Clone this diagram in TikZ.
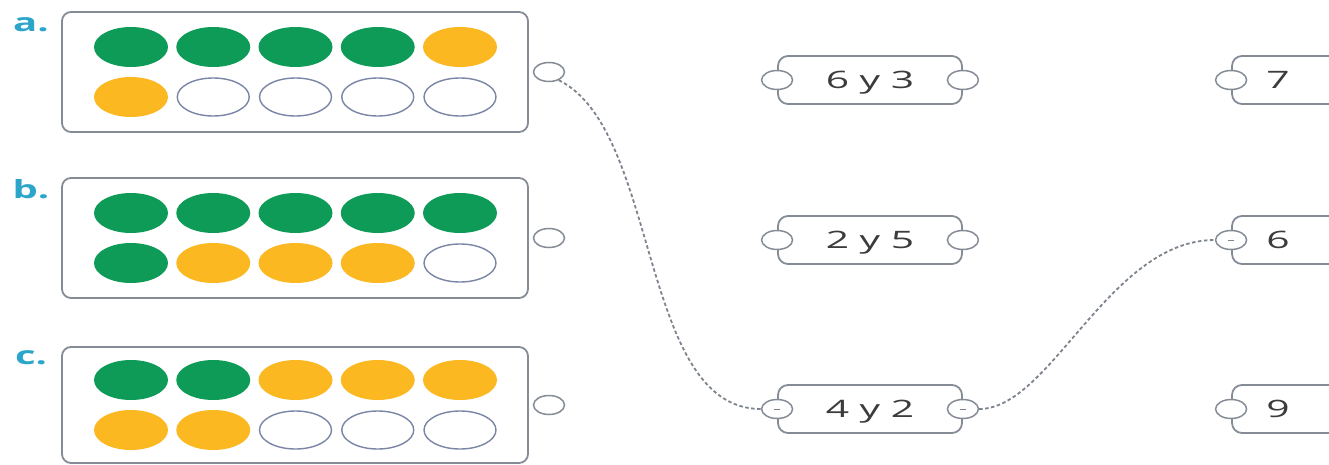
\documentclass[tikz,border=0pt]{standalone}
\usepackage{fontspec}
\setmainfont{Open Sans}
\usetikzlibrary{shapes.geometric,calc}
\definecolor{dotgreen}{HTML}{0E9B57}
\definecolor{dotyellow}{HTML}{FBB820}
\definecolor{rimgray}{HTML}{858C96}
\definecolor{ringblue}{HTML}{7B85A6}
\definecolor{labelteal}{HTML}{2BA6CA}
\definecolor{wiregray}{HTML}{7E848E}
\definecolor{textgray}{HTML}{3C3C3C}
\begin{document}
\begin{tikzpicture}[x=1pt,y=-1pt,
  frame/.style={draw=rimgray,line width=1.8pt,rounded corners=9pt,fill=white,minimum width=466pt,inner sep=0pt},
  gdot/.style={ellipse,fill=dotgreen,minimum width=74pt,minimum height=40pt,inner sep=0pt},
  ydot/.style={ellipse,fill=dotyellow,minimum width=74pt,minimum height=40pt,inner sep=0pt},
  edot/.style={ellipse,draw=ringblue,line width=1.4pt,fill=white,minimum width=72pt,minimum height=38pt,inner sep=0pt},
  port/.style={ellipse,draw=rimgray,line width=1.5pt,fill=white,minimum width=31pt,minimum height=19pt,inner sep=0pt},
  tag/.style={draw=rimgray,line width=1.8pt,rounded corners=10pt,fill=white,minimum height=48pt,inner sep=0pt,text depth=0pt,text=textgray,font=\fontsize{24}{24}\selectfont},
  lab/.style={text=labelteal,font=\fontsize{25}{25}\selectfont\bfseries,anchor=base,inner sep=0pt},
  wire/.style={draw=wiregray,line width=1.8pt,dash pattern=on 3.5pt off 2.5pt},
  tick/.style={draw=wiregray,line width=1pt}]
\useasboundingbox (0,0) rectangle (1329,465);
% labels
\node[lab] (la) at (31,32) {\scalebox{1.6}[1]{a.}};
\node[lab] (lb) at (31,198) {\scalebox{1.6}[1]{b.}};
\node[lab] (lc) at (31,364) {\scalebox{1.6}[1]{c.}};
% frames
\node[frame,minimum height=120pt] (fa) at (295,72) {};
\node[frame,minimum height=120pt] (fb) at (295,238) {};
\node[frame,minimum height=116pt] (fc) at (295,405) {};
% dots
\foreach \s [count=\i] in {gdot,gdot,gdot,gdot,ydot} \node[\s] (a1\i) at (131+82.25*\i-82.25,47) {};
\foreach \s [count=\i] in {ydot,edot,edot,edot,edot} \node[\s] (a2\i) at (131+82.25*\i-82.25,97) {};
\foreach \s [count=\i] in {gdot,gdot,gdot,gdot,gdot} \node[\s] (b1\i) at (131+82.25*\i-82.25,213) {};
\foreach \s [count=\i] in {gdot,ydot,ydot,ydot,edot} \node[\s] (b2\i) at (131+82.25*\i-82.25,263) {};
\foreach \s [count=\i] in {gdot,gdot,ydot,ydot,ydot} \node[\s] (c1\i) at (131+82.25*\i-82.25,380) {};
\foreach \s [count=\i] in {ydot,ydot,edot,edot,edot} \node[\s] (c2\i) at (131+82.25*\i-82.25,430) {};
% frame ports
\node[port] (pa) at (549,72) {};
\node[port] (pb) at (549,238) {};
\node[port] (pc) at (549,405) {};
% middle tags
\node[tag,minimum width=184pt] (m1) at (870,80) {\scalebox{1.7}[1]{6 y 3}};
\node[tag,minimum width=184pt] (m2) at (870,240) {\scalebox{1.7}[1]{2 y 5}};
\node[tag,minimum width=184pt] (m3) at (870,409) {\scalebox{1.7}[1]{4 y 2}};
\foreach \m in {m1,m2,m3} {
  \node[port] (\m l) at (\m.west) {};
  \node[port] (\m r) at (\m.east) {};
}
% right tags
\node[tag,minimum width=120pt,label={[xshift=-14pt,text=textgray,font=\fontsize{24}{24}\selectfont]center:\scalebox{1.7}[1]{7}}] (r1) at (1292,80) {};
\node[tag,minimum width=120pt,label={[xshift=-14pt,text=textgray,font=\fontsize{24}{24}\selectfont]center:\scalebox{1.7}[1]{6}}] (r2) at (1292,240) {};
\node[tag,minimum width=120pt,label={[xshift=-14pt,text=textgray,font=\fontsize{24}{24}\selectfont]center:\scalebox{1.7}[1]{9}}] (r3) at (1292,409) {};
\foreach \r in {r1,r2,r3} \node[port] (\r l) at (\r.west) {};
% connectors
\draw[wire] (pa.-40) .. controls ($(pa)+(111,58)$) and ($(m3l)+(-138,0)$) .. (m3l.west);
\draw[wire] (m3r.east) .. controls ($(m3r)+(88,0)$) and ($(r2l)+(-122,0)$) .. (r2l.west);
\draw[tick] ($(m3l)+(-3,0)$) -- ($(m3l)+(3,0)$);
\draw[tick] ($(m3r)+(-3,0)$) -- ($(m3r)+(3,0)$);
\draw[tick] ($(r2l)+(-3,0)$) -- ($(r2l)+(3,0)$);
\end{tikzpicture}
\end{document}
